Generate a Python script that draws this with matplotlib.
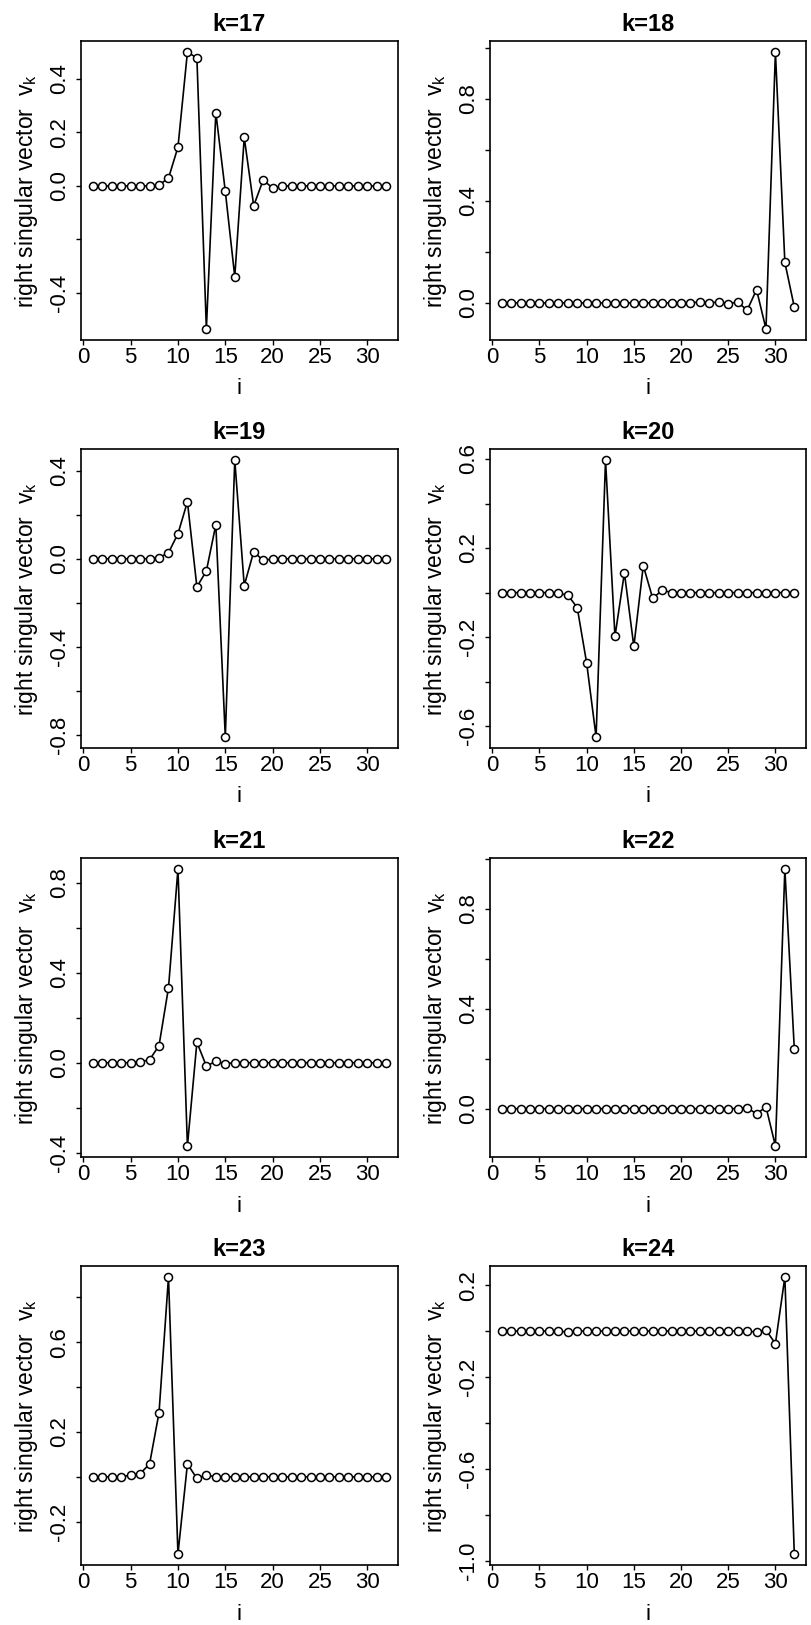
import matplotlib
matplotlib.use("Agg")
import matplotlib.pyplot as plt
import numpy as np

plt.rcParams['font.family'] = 'Liberation Sans'
plt.rcParams['mathtext.fontset'] = 'custom'
plt.rcParams['mathtext.rm'] = 'Liberation Sans'
plt.rcParams['axes.unicode_minus'] = False

# index along the vector
i_idx = list(range(1, 33))

# right singular vectors
v17 = [0.0, 0.0, 0.0, 0.0, 0.0, 0.0, 0.0, 0.004, 0.029, 0.145, 0.500, 0.478,
       -0.534, 0.274, -0.020, -0.339, 0.181, -0.074, 0.022, -0.008,
       0.0, 0.0, 0.0, 0.0, 0.0, 0.0, 0.0, 0.0, 0.0, 0.0, 0.0, 0.0]
v18 = [0.0] * 21 + [0.004, 0.0, 0.004, -0.004, 0.004, -0.029, 0.052, -0.102,
                    0.984, 0.159, -0.016]
v19 = [0.0, 0.0, 0.0, 0.0, 0.0, 0.0, 0.0, 0.005, 0.027, 0.114, 0.259, -0.128,
       -0.056, 0.155, -0.811, 0.449, -0.122, 0.032, -0.008] + [0.0] * 13
v20 = [0.0, 0.0, 0.0, 0.0, 0.0, 0.0, -0.004, -0.011, -0.067, -0.316, -0.648,
       0.595, -0.197, 0.089, -0.242, 0.121, -0.026, 0.011] + [0.0] * 14
v21 = [0.0, 0.0, 0.0, 0.0, 0.0, 0.004, 0.013, 0.076, 0.333, 0.861, -0.370,
       0.091, -0.015, 0.006, -0.004] + [0.0] * 17
v22 = [0.0] * 26 + [0.004, -0.021, 0.007, -0.149, 0.958, 0.239]
v23 = [0.0, 0.0, 0.0, 0.0, 0.007, 0.014, 0.057, 0.286, 0.891, -0.344, 0.057,
       -0.007, 0.007] + [0.0] * 19
v24 = [0.0] * 7 + [-0.005] + [0.0] * 19 + [-0.005, 0.004, -0.055, 0.235, -0.971]

# y tick values that carry a label in each panel
lab17 = [-0.4, 0.0, 0.2, 0.4]
lab18 = [0.0, 0.4, 0.8]
lab19 = [-0.8, -0.4, 0.0, 0.4]
lab20 = [-0.6, -0.2, 0.2, 0.6]
lab21 = [-0.4, 0.0, 0.4, 0.8]
lab22 = [0.0, 0.4, 0.8]
lab23 = [-0.2, 0.2, 0.6]
lab24 = [-1.0, -0.6, -0.2, 0.2]

x_ticks = [0, 5, 10, 15, 20, 25, 30]

panels = [(17, v17, lab17), (18, v18, lab18), (19, v19, lab19), (20, v20, lab20),
          (21, v21, lab21), (22, v22, lab22), (23, v23, lab23), (24, v24, lab24)]

W, H = 811, 1625
fig = plt.figure(figsize=(W / 100, H / 100), dpi=100)

col_left = [81, 490]
col_width = [317, 316]
row_top = [41, 449, 858, 1266]
box_h = 299


def fmt(t):
    if abs(t) < 1e-9:
        t = 0.0
    return f"{t:.1f}"


for n, (k, v, labs) in enumerate(panels):
    r, c = divmod(n, 2)
    ax = fig.add_axes([col_left[c] / W, 1 - (row_top[r] + box_h) / H,
                       col_width[c] / W, box_h / H])
    ax.plot(i_idx, v, color='black', lw=1.2, marker='o', ms=5.8,
            mfc='white', mec='black', mew=1.1)
    ax.margins(x=0.04, y=0.04)
    lo, hi = ax.get_ylim()
    yt = np.arange(np.ceil(lo / 0.2 - 1e-9), np.floor(hi / 0.2 + 1e-9) + 1) * 0.2
    yt = np.round(yt, 1)
    ax.set_yticks(yt)
    ax.set_yticklabels([fmt(t) if any(abs(t - l) < 1e-6 for l in labs) else ""
                        for t in yt], rotation=90, va='center')
    ax.set_ylim(lo, hi)
    ax.set_xticks(x_ticks)
    ax.set_xticklabels([str(t) for t in x_ticks])
    ax.tick_params(axis='both', direction='out', length=3.6, width=1.0,
                   labelsize=16, color='black')
    ax.tick_params(axis='x', pad=1.5)
    ax.tick_params(axis='y', pad=4.5)
    for s in ax.spines.values():
        s.set_linewidth(1.2)
    ax.set_title(f"k={k}", fontsize=17, fontweight='bold', pad=7)
    ax.set_xlabel("i", fontsize=16, labelpad=7.5)
    ax.set_ylabel(r"right singular vector  $\mathrm{v}_\mathrm{k}$", fontsize=16.5,
                  labelpad=6)

fig.savefig("out.png", dpi=100)
